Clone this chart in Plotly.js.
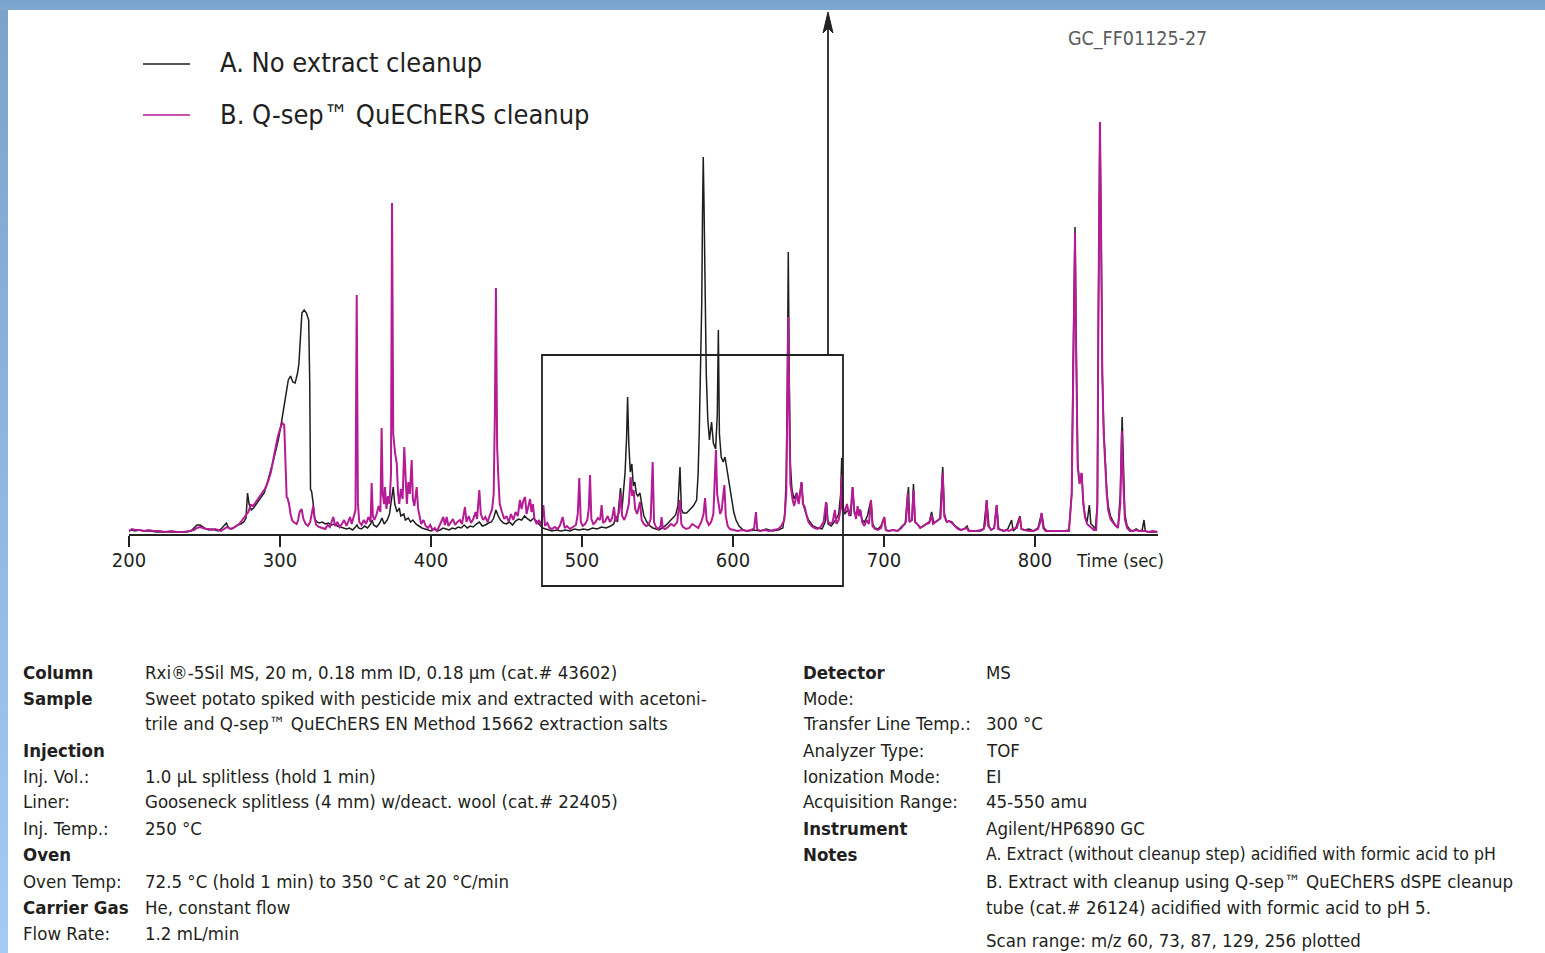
<!DOCTYPE html>
<html>
<head>
<meta charset="utf-8">
<script src="https://cdn.plot.ly/plotly-3.0.1.min.js"></script>
<style>
  html, body { margin: 0; padding: 0; }
  body {
    width: 1545px; height: 953px; overflow: hidden;
    background:
      linear-gradient(#7aa2cb, #7ea7d0) 0 0 / 100% 10px no-repeat,
      linear-gradient(to bottom, #7aa2cb, #a4cbf6) 0 0 / 8px 100% no-repeat,
      #ffffff;
  }
  #chart { width: 1545px; height: 953px; }
</style>
</head>
<body>
<div id="chart"></div>
<script>
// Total ion chromatogram, sweet potato extract (time in s, detector response in arbitrary units)
const traceNames = ['A. No extract cleanup', 'B. Q-sep\u2122 QuEChERS cleanup'];

// A: extract without cleanup
const signalA = [
  [200,3],[202,4],[204,3],[207,4],[210,3],[214,3],[218,2],[222,2],[226,2],[230,2],[234,2],[238,2],[241,3],[243,6],[245,9],[247,9],[249,7],[251,5],[253,4],[255,5],[257,4],[259,3],[261,5],[263,8],[264.5,11],[266,6],[268,5],[270,7],[272,9],[274,10],[276,12],[277.5,16],[278.5,41],[279.5,30],[281,24],[282.5,26],[284,29],[286,33],[288,38],[289.5,41],[291,48],[293,58],[295,70],[297,82],[299,95],[301,112],[302.5,125],[304,140],[305.5,154],[307,158],[308.5,152],[310,151],[311.5,160],[312.5,170],[313.5,200],[314.5,221],[316,224],[317.5,221],[319,214],[319.7,150],[320.2,45],[321,42],[322,30],[323,15],[324.5,12],[326,11],[328,12],[330,10],[332,11],[334,9],[336,10],[338,8],[340,7],[342,6],[344,5],[346,6],[348,4],[350,7],[351,9],[352,6],[354,5],[356,8],[358,6],[360,10],[361,14],[362,9],[364,7],[366,11],[367.5,16],[369,10],[371,14],[372.5,20],[374,35],[375,47],[376,30],[377.5,22],[379,26],[380,18],[382,20],[383,14],[385,16],[386.5,12],[388,14],[390,10],[392,8],[394,6],[396,5],[398,4],[400,3],[402,5],[404,3],[406,4],[408,6],[410,5],[412,4],[414,6],[416,5],[418,7],[420,6],[422,9],[424,6],[426,8],[428,7],[430,10],[432,12],[434,8],[436,9],[438,11],[440,12],[441.5,16],[443,24],[444.5,18],[446,14],[448,11],[450,10],[452,12],[454,9],[456,13],[458,15],[460,14],[462,18],[464,15],[466,13],[468,16],[470,12],[472,9],[474,6],[476,5],[478,4],[480,3],[483,4],[486,3],[489,4],[492,3],[495,5],[498,4],[501,5],[504,4],[507,6],[510,5],[513,7],[516,6],[519,8],[521,10],[522.5,18],[523.5,12],[524.5,30],[525.5,46],[526.5,25],[527.5,40],[528.5,61],[529.5,95],[530.2,137],[531,90],[532,62],[533,70],[534,48],[535,52],[536,40],[537,38],[538.4,41],[539.5,30],[541,18],[543,12],[545,8],[547,6],[549,5],[551,4],[553,6],[555,8],[557,11],[559,14],[560.5,17],[562,19],[563.5,28],[564.9,67],[565.8,25],[567,21],[569.3,21],[571,24],[573.7,28],[575.9,34],[576.9,60],[577.7,105],[578.6,160],[579.3,230],[579.8,320],[580.3,377],[580.8,330],[581.5,240],[582.3,160],[583.3,115],[584.4,94],[585.8,112],[587,91],[588.5,85],[589.6,120],[590.3,204],[591,100],[592.2,77],[593.5,72],[594.7,77],[596.3,61],[597.8,48],[599.1,34],[600.5,22],[602,14],[604,8],[606.8,4],[610,3],[614,4],[618,3],[622,5],[626,3],[630,4],[633,6],[634.4,21],[635.3,60],[636,150],[636.6,282],[637.3,150],[638,70],[639,45],[640.3,35],[642.1,41],[643.5,32],[645.4,52],[646.5,30],[648,22],[650,14],[653,8],[656,6],[659,5],[661,12],[662,31],[663,10],[665,8],[668,14],[670,20],[671.3,40],[672,76],[672.6,30],[674,20],[676,24],[678,18],[679.2,47],[680.5,20],[682,22],[684,24],[685.5,14],[687,12],[689,18],[691.4,34],[692.5,10],[694,6],[696,5],[698,8],[700.2,17],[701.2,4],[703,3],[706,4],[709,3],[712,8],[714,10],[716.2,47],[717,12],[718.5,14],[719.5,50],[720.5,12],[722,10],[724,6],[726,8],[728,10],[730,12],[731.5,22],[733,11],[735,13],[737,15],[738.9,67],[740,20],[741.5,12],[743,13],[745,12],[747,8],[749,6],[751,4],[753,5],[755,8],[756,4],[758,3],[761,3],[764,3],[766,5],[768,34],[769.5,8],[771,4],[773,6],[774.6,29],[776,5],[778,4],[780,3],[782,5],[784.5,14],[785.5,3],[787,5],[790,18],[791,5],[793,4],[796,5],[799,3],[802,6],[804.4,21],[806,6],[808,3],[811,3],[815,3],[819,3],[822.5,4],[824.3,40],[825.2,165],[826.5,307],[827.3,185],[828.3,70],[829.5,52],[830.9,61],[832,32],[833.1,18],[834.5,12],[836,29],[837,10],[838.5,8],[840,5],[841.3,30],[842,220],[843,412],[843.8,300],[844.6,160],[845.5,105],[846.4,72],[847.5,45],[848.5,28],[850,18],[851.9,12],[853.5,8],[855,7],[856.5,40],[857.7,117],[858.5,60],[859.5,20],[861,8],[863,4],[865,3],[867,5],[869,3],[871,4],[872.2,14],[873,3],[875,2],[878,2],[881,2]
];

// B: extract after dSPE cleanup
const signalB = [
  [200,3],[202,5],[204,4],[207,4],[210,3],[213,4],[216,3],[220,3],[224,2],[228,3],[232,2],[236,2],[240,3],[243,4],[245,6],[247,7],[249,6],[251,5],[253,5],[255,4],[257,5],[259,4],[261,3],[263,5],[265,7],[267,5],[269,6],[271,8],[273,10],[275,14],[277,18],[279,22],[280.7,29],[282,28],[284,32],[286,36],[288,40],[290,45],[292,52],[294,62],[296,78],[297.5,90],[298.5,97],[300,105],[301.5,111],[302.8,109],[303.5,80],[304.4,37],[305,36],[306,30],[307,20],[308,14],[309,12],[310,11],[311,10],[312,14],[313,22],[314.3,25],[315.5,15],[317,10],[318.5,8],[320,12],[322,28],[323,15],[324,9],[326,7],[328,6],[330,5],[331.5,9],[333,7],[335.3,17],[336.5,8],[338,12],[339.5,7],[341,10],[342.5,14],[344,8],[346.4,17],[347.5,10],[349,20],[350,24],[350.8,239],[351.6,30],[352.5,12],[354,9],[355.5,14],[357,10],[358.5,17],[360,12],[360.7,51],[361.5,18],[362.5,14],[364,20],[365.3,28],[366.5,22],[367.3,106],[368,40],[369,30],[369.5,47],[370.5,25],[371.5,38],[372.5,30],[373.5,60],[374.2,331],[375,100],[376.2,81],[377.3,71],[378.2,40],[379,30],[380,45],[381.2,35],[382.3,87],[383.2,45],[384,30],[385,52],[386,40],[387.2,74],[388,35],[389,28],[390.5,47],[391.5,25],[392.5,18],[393.5,10],[395,14],[396.5,8],[398,6],[399.5,9],[401,4],[402.5,6],[404,3],[405.5,8],[407,12],[408.2,17],[409.2,9],[410.4,17],[411.5,8],[413,11],[414.5,15],[416,9],[417.5,12],[419.2,14],[420.5,10],[422.5,27],[423.5,12],[425,18],[426.5,11],[428,15],[429.5,22],[430.5,15],[432,44],[433,20],[434.5,14],[436,17],[437.5,12],[439,19],[440.5,25],[441.5,40],[442.3,120],[443,246],[443.8,87],[444.6,57],[445.5,30],[447,22],[448.5,15],[450,18],[451.5,12],[453,20],[454.5,14],[456,22],[457.5,18],[458.9,34],[460,25],[461.1,33],[462.3,37],[463.3,20],[464.5,28],[465.6,35],[466.5,22],[467.5,30],[468.5,15],[470,10],[471.5,14],[473,8],[474.4,29],[475.5,8],[477,11],[478.5,6],[480,5],[482,7],[484,5],[485.5,9],[487.2,17],[488.5,6],[490,8],[492,5],[494,7],[496,9],[497.2,20],[498.2,56],[499.2,12],[500.5,8],[502,10],[503.5,14],[504.5,25],[505.3,59],[506.2,15],[507.5,10],[509,12],[510.5,16],[512,14],[513,29],[514,11],[515.5,13],[517,18],[518.5,12],[520,16],[521.2,27],[522.2,12],[523.5,18],[524.6,22],[525.6,41],[526.6,18],[528,14],[529.5,20],[531,30],[532.2,57],[533.2,38],[534.2,44],[535.2,25],[536.5,20],[538.4,32],[539.5,14],[541,10],[542.5,8],[544,9],[545.5,15],[546.8,72],[547.7,12],[549,7],[550.5,5],[552,8],[552.7,17],[553.5,6],[555,5],[557,7],[559,10],[561,8],[563,12],[564.9,34],[565.8,10],[567,7],[569,5],[571,6],[573,10],[575,8],[577,6],[579,12],[580.5,20],[581.5,36],[582.5,14],[584,9],[585.5,12],[587,20],[588,50],[588.7,84],[589.5,40],[590.5,27],[591.5,20],[592.5,24],[593.5,35],[594.3,49],[595.2,18],[596.5,8],[598,5],[600,4],[603,3],[606,4],[609,3],[612,4],[614,6],[615.2,22],[616,5],[618,3],[621,4],[624,3],[627,4],[630,5],[632,8],[634,14],[635.3,40],[636,120],[636.6,217],[637.3,120],[638,50],[639.5,34],[640.5,28],[641.5,35],[642.3,41],[643.5,30],[644.5,40],[645.4,52],[646.3,30],[647.5,27],[648.5,20],[650,12],[652,8],[654,6],[656,5],[658,7],[660,12],[661.6,32],[662.5,14],[664,10],[666,12],[667.5,24],[668.5,10],[670,14],[671.3,25],[672,59],[672.7,25],[674,22],[675.5,30],[677,18],[678.2,28],[679.2,47],[680.2,24],[681.5,15],[682.5,28],[683.5,18],[684.5,24],[685.5,12],[687,8],[688.5,14],[690,10],[691.4,34],[692.4,8],[694,5],[696,4],[698,6],[700.2,17],[701.2,4],[703,3],[706,4],[709,3],[711.5,6],[713,9],[714.5,12],[715.7,41],[716.8,12],[718.5,14],[719.6,44],[720.6,12],[722,10],[724,6],[726,8],[728,10],[730,11],[731.5,19],[732.5,10],[734,12],[736,14],[737.5,16],[738.9,61],[739.9,18],[741.5,12],[743,13],[745,11],[747,8],[749,5],[751,4],[753,5],[755,6],[756,3],[758,3],[761,3],[764,4],[766,5],[767,10],[768,34],[769,8],[771,4],[773,6],[774.6,29],[775.6,5],[777,4],[779,3],[781,4],[783,3],[785,5],[788,6],[790,17],[791,5],[793,4],[796,3],[799,3],[802,5],[803.5,12],[804.4,21],[805.5,6],[807,3],[810,3],[814,3],[818,3],[822.5,3],[824.3,40],[825.2,160],[826.5,301],[827.3,180],[828.3,67],[829.5,50],[830.9,61],[832,30],[833.1,17],[834.5,10],[836,8],[837.5,6],[839,4],[840.5,4],[841.3,30],[842,220],[843,412],[843.8,300],[844.6,157],[845.5,100],[846.4,67],[847.5,40],[848.5,24],[850,15],[851.9,11],[853.5,8],[855,6],[856.5,30],[857.5,103],[858.5,50],[859.5,15],[861,6],[863,3],[865,3],[867,4],[869,3],[871,3],[873,3],[875,2],[878,3],[881,2]
];

const tickValues = [200, 300, 400, 500, 600, 700, 800];
const axisTitle = 'Time (sec)';
const figureCode = 'GC_FF01125-27';

// Method conditions printed under the chromatogram
const leftLabels = ['<b>Column</b>', '<b>Sample</b>', '', '<b>Injection</b>', 'Inj. Vol.:', 'Liner:', 'Inj. Temp.:', '<b>Oven</b>', 'Oven Temp:', '<b>Carrier Gas</b>', 'Flow Rate:'];
const leftValues = [
  'Rxi\u00ae-5Sil MS, 20 m, 0.18 mm ID, 0.18 \u00b5m (cat.# 43602)',
  'Sweet potato spiked with pesticide mix and extracted with acetoni-',
  'trile and Q-sep\u2122 QuEChERS EN Method 15662 extraction salts',
  '',
  '1.0 \u00b5L splitless (hold 1 min)',
  'Gooseneck splitless (4 mm) w/deact. wool (cat.# 22405)',
  '250 \u00b0C',
  '',
  '72.5 \u00b0C (hold 1 min) to 350 \u00b0C at 20 \u00b0C/min',
  'He, constant flow',
  '1.2 mL/min'
];
const rightLabels = ['<b>Detector</b>', 'Mode:', 'Transfer Line Temp.:', 'Analyzer Type:', 'Ionization Mode:', 'Acquisition Range:', '<b>Instrument</b>', '<b>Notes</b>', '', '', ''];
const rightValues = [
  'MS', '', '300 \u00b0C', 'TOF', 'EI', '45-550 amu', 'Agilent/HP6890 GC',
  'A. Extract (without cleanup step) acidified with formic acid to pH',
  'B. Extract with cleanup using Q-sep\u2122 QuEChERS dSPE cleanup',
  'tube (cat.# 26124) acidified with formic acid to pH 5.',
  'Scan range: m/z 60, 73, 87, 129, 256 plotted'
];

// ---- page geometry (pixels) ----
const W = 1545, H = 953;
const M = { l: 129, r: 387, t: 10, b: 419 };
const plotW = W - M.l - M.r, plotH = H - M.t - M.b;
const px = v => (v - M.l) / plotW;          // page x -> paper x
const py = v => (H - M.b - v) / plotH;      // page y -> paper y

const FONT = "'Liberation Sans Narrow', 'DejaVu Sans Condensed', 'Arial Narrow', sans-serif";
const INK = '#231f20';
const MAGENTA = '#b41b94';
const INFO_SIZE = 18.5;

const traces = [
  { x: signalA.map(p => p[0]), y: signalA.map(p => p[1]), name: traceNames[0], type: 'scatter', mode: 'lines',
    line: { color: '#1e1e1e', width: 1.5 }, hoverinfo: 'x+y' },
  { x: signalB.map(p => p[0]), y: signalB.map(p => p[1]), name: traceNames[1], type: 'scatter', mode: 'lines',
    line: { color: MAGENTA, width: 2 }, hoverinfo: 'x+y' }
];

const ann = [];
function txt(x, y, text, size, color, anchor) {
  ann.push({ xref: 'paper', yref: 'paper', x: px(x), y: py(y), text: text, showarrow: false,
    xanchor: anchor || 'left', yanchor: 'middle', font: { family: FONT, size: size, color: color || INK } });
}

// legend
txt(218, 62, traceNames[0], 27);
txt(218, 115, traceNames[1], 27);
// figure code and axis caption
txt(1066, 39, figureCode, 19.5, '#5a5a5a');
txt(1074, 560, axisTitle, 18.5);

const rowsL = [672, 698, 723, 750, 776, 801, 828, 854, 881, 907, 933];
const rowsR = [672, 698, 723, 750, 776, 801, 828, 854, 881, 907, 940];
leftLabels.forEach((t, i) => { if (t) txt(21, rowsL[i], t, INFO_SIZE); });
leftValues.forEach((t, i) => { if (t) txt(143, rowsL[i], t, INFO_SIZE); });
rightLabels.forEach((t, i) => { if (t) txt(801, rowsR[i], t, INFO_SIZE); });
rightValues.forEach((t, i) => { if (t) txt(984, rowsR[i], t, i === 7 ? 17.5 : INFO_SIZE); });

const shapes = [
  // legend keys
  { type: 'line', xref: 'paper', yref: 'paper', x0: px(143), x1: px(190), y0: py(64), y1: py(64), line: { color: '#1e1e1e', width: 1.5 } },
  { type: 'line', xref: 'paper', yref: 'paper', x0: px(143), x1: px(190), y0: py(115), y1: py(115), line: { color: MAGENTA, width: 1.5 } },
  // zoom box around the 475-675 s window
  { type: 'rect', xref: 'paper', yref: 'paper', x0: px(542), x1: px(843), y0: py(586), y1: py(355), line: { color: '#222', width: 1.8 }, fillcolor: 'rgba(0,0,0,0)' },
  // pointer leaving the box
  { type: 'line', xref: 'paper', yref: 'paper', x0: px(828), x1: px(828), y0: py(355), y1: py(24), line: { color: '#222', width: 1.8 } },
  { type: 'path', xref: 'paper', yref: 'paper',
    path: 'M ' + px(828) + ' ' + py(12) + ' L ' + px(823) + ' ' + py(33) + ' L ' + px(828) + ' ' + py(28) + ' L ' + px(833) + ' ' + py(33) + ' Z',
    fillcolor: '#222', line: { color: '#222', width: 1 } }
];

const layout = {
  width: W, height: H,
  margin: M,
  paper_bgcolor: 'rgba(0,0,0,0)', plot_bgcolor: 'rgba(0,0,0,0)',
  showlegend: false,
  xaxis: {
    range: [200, 200 + plotW / 1.51], tickvals: tickValues, ticktext: tickValues.map(String),
    showline: true, linecolor: '#222', linewidth: 2, ticks: 'outside', ticklen: 11, tickwidth: 2, tickcolor: '#222',
    ticklabelstandoff: -4,
    showgrid: false, zeroline: false, tickfont: { family: FONT, size: 20, color: INK }, fixedrange: true
  },
  yaxis: { range: [0, plotH], visible: false, fixedrange: true },
  annotations: ann,
  shapes: shapes
};

Plotly.newPlot('chart', traces, layout, { displayModeBar: false, staticPlot: true });
</script>
</body>
</html>
